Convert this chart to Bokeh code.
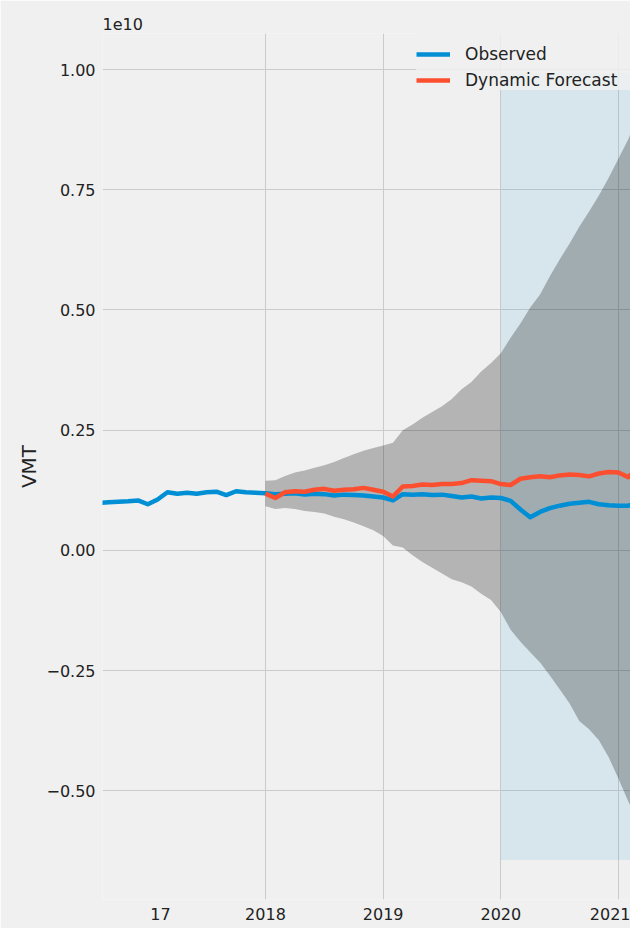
import numpy as np
import pandas as pd
from bokeh.plotting import figure
from bokeh.models import (Range1d, FixedTicker, CustomJSTickFormatter, Legend,
                          LegendItem)
from bokeh.embed import file_html
from bokeh.resources import INLINE

# ---------------- data ----------------
obs_start = "2016-08-01"
obs_vmt = [0.99e9, 1.00e9, 1.01e9, 1.02e9, 1.04e9,
           0.96e9, 1.06e9, 1.21e9, 1.18e9, 1.20e9, 1.18e9, 1.21e9, 1.22e9, 1.15e9, 1.23e9, 1.21e9, 1.20e9,
           1.19e9, 1.17e9, 1.18e9, 1.19e9, 1.16e9, 1.18e9, 1.17e9, 1.14e9, 1.16e9, 1.15e9, 1.14e9, 1.12e9,
           1.10e9, 1.04e9, 1.17e9, 1.16e9, 1.17e9, 1.15e9, 1.16e9, 1.13e9, 1.10e9, 1.12e9, 1.08e9, 1.10e9,
           1.09e9, 1.03e9, 0.85e9, 0.69e9, 0.80e9, 0.88e9, 0.93e9, 0.97e9, 0.99e9, 1.01e9, 0.96e9, 0.94e9,
           0.93e9, 0.93e9, 1.00e9]

fc_start = "2018-01-01"
fc_vmt = [1.18e9, 1.09e9, 1.21e9, 1.23e9, 1.22e9, 1.26e9, 1.28e9, 1.24e9, 1.26e9, 1.27e9, 1.30e9, 1.26e9,
          1.22e9, 1.12e9, 1.33e9, 1.34e9, 1.37e9, 1.36e9, 1.38e9, 1.38e9, 1.40e9, 1.46e9, 1.45e9, 1.44e9,
          1.38e9, 1.36e9, 1.49e9, 1.52e9, 1.54e9, 1.52e9, 1.56e9, 1.58e9, 1.57e9, 1.54e9, 1.60e9, 1.63e9,
          1.62e9, 1.52e9, 1.74e9]
ci_upper = [1.45e9, 1.46e9, 1.55e9, 1.62e9, 1.66e9, 1.72e9, 1.77e9, 1.84e9, 1.92e9, 2.00e9, 2.07e9, 2.13e9,
            2.18e9, 2.24e9, 2.50e9, 2.62e9, 2.76e9, 2.88e9, 3.00e9, 3.15e9, 3.35e9, 3.50e9, 3.72e9, 3.90e9,
            4.10e9, 4.42e9, 4.72e9, 5.05e9, 5.32e9, 5.70e9, 6.05e9, 6.38e9, 6.73e9, 7.05e9, 7.38e9, 7.75e9,
            8.15e9, 8.55e9, 9.10e9]
ci_lower = [0.92e9, 0.86e9, 0.88e9, 0.86e9, 0.82e9, 0.80e9, 0.77e9, 0.70e9, 0.65e9, 0.58e9, 0.50e9, 0.42e9,
            0.30e9, 0.10e9, 0.06e9, -0.10e9, -0.24e9, -0.36e9, -0.48e9, -0.60e9, -0.66e9, -0.75e9, -0.90e9, -1.03e9,
            -1.28e9, -1.65e9, -1.90e9, -2.12e9, -2.33e9, -2.60e9, -2.89e9, -3.18e9, -3.55e9, -3.72e9, -3.95e9, -4.30e9,
            -4.75e9, -5.22e9, -5.65e9]

shade_x = [2020.0, 2021.25]
shade_y = [-6.44e9, 9.93e9]

y_ticks = [-5e9, -2.5e9, 0, 2.5e9, 5e9, 7.5e9, 1e10]
x_tick_pos = [2017.108, 2018, 2019, 2020, 2021]
x_tick_labels = ["17", "2018", "2019", "2020", "2021"]
grid_years = [2018, 2019, 2020, 2021]


def frac_years(start, n):
    d = pd.date_range(start, periods=n, freq="MS")
    return list(d.year + (d.month - 1) / 12.0)


obs_x = frac_years(obs_start, len(obs_vmt))
fc_x = frac_years(fc_start, len(fc_vmt))

BG = "#f0f0f0"
FONT = "DejaVu Sans"
TXT = "#222222"

p = figure(width=630, height=928,
           x_range=Range1d(2016.615, 2021.102),
           y_range=Range1d(-0.726e10, 1.075e10),
           output_backend="svg", toolbar_location=None,
           min_border_left=102, min_border_right=0,
           min_border_top=33, min_border_bottom=29,
           background_fill_color=BG, border_fill_color=BG,
           outline_line_color=None, title="1e10")

p.title.text_font = FONT
p.title.text_font_size = "16px"
p.title.text_font_style = "normal"
p.title.text_color = TXT
p.title.align = "left"
p.title.standoff = 7

# axes
p.xaxis.ticker = FixedTicker(ticks=x_tick_pos)
p.xaxis.formatter = CustomJSTickFormatter(
    args=dict(pos=x_tick_pos, labels=x_tick_labels),
    code="""
    let best = 0;
    for (let i = 0; i < pos.length; i++) {
        if (Math.abs(pos[i] - tick) < Math.abs(pos[best] - tick)) best = i;
    }
    return labels[best];
    """)
p.yaxis.ticker = FixedTicker(ticks=y_ticks)
p.yaxis.formatter = CustomJSTickFormatter(
    code="return (tick / 1e10).toFixed(2).replace('-', '\u2212');")

for ax in (p.xaxis[0], p.yaxis[0]):
    ax.axis_line_color = None
    ax.major_tick_line_color = None
    ax.minor_tick_line_color = None
    ax.major_label_text_font = FONT
    ax.major_label_text_font_size = "16px"
    ax.major_label_text_color = TXT
p.xaxis.major_label_standoff = 2
p.yaxis.major_label_standoff = 1
p.yaxis.axis_label = "VMT"
p.yaxis.axis_label_text_font = FONT
p.yaxis.axis_label_text_font_size = "20px"
p.yaxis.axis_label_text_font_style = "normal"
p.yaxis.axis_label_text_color = TXT
p.yaxis.axis_label_standoff = 2

p.xgrid.ticker = FixedTicker(ticks=grid_years)
p.grid.grid_line_color = "#cbcbcb"
p.grid.grid_line_width = 1

# shaded period
p.quad(left=[shade_x[0]], right=[shade_x[1]], bottom=[shade_y[0]], top=[shade_y[1]],
       fill_color="#008fd5", fill_alpha=0.1, line_color=None)
# confidence band
p.varea(x=fc_x, y1=ci_lower, y2=ci_upper, fill_color="black", fill_alpha=0.25)
# lines
r_obs = p.line(obs_x, obs_vmt, line_color="#008fd5", line_width=4.5, line_join="round")
r_fc = p.line(fc_x, fc_vmt, line_color="#fc4f30", line_width=4.5, line_join="round")

legend = Legend(items=[LegendItem(label="Observed", renderers=[r_obs]),
                       LegendItem(label="Dynamic Forecast", renderers=[r_fc])],
                location="top_right", margin=0, padding=9, spacing=6,
                title=" ", title_text_font_size="9px", title_standoff=1,
                glyph_width=34, glyph_height=20, label_height=20, label_width=165,
                label_standoff=15, label_text_font=FONT, label_text_font_size="17px",
                label_text_color=TXT, background_fill_color=BG,
                background_fill_alpha=0.85, border_line_color=None)
p.add_layout(legend)

open("out.html", "w").write(file_html(p, INLINE))
